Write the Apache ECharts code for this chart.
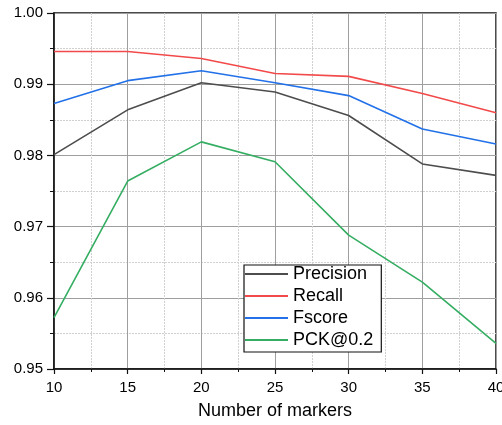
<!DOCTYPE html>
<html><head><meta charset="utf-8">
<script src="https://cdn.jsdelivr.net/npm/echarts@6/dist/echarts.min.js"></script>
<style>html,body{margin:0;padding:0;background:#fff}#c{width:502px;height:425px}</style>
</head><body><div id="c"></div>
<script>
var markers = [10, 15, 20, 25, 30, 35, 40];
var precision = [0.9801, 0.9864, 0.9902, 0.9889, 0.9856, 0.9788, 0.9772];
var recall = [0.9946, 0.9946, 0.9936, 0.9915, 0.9911, 0.9887, 0.9860];
var fscore = [0.9873, 0.9905, 0.9919, 0.9902, 0.9884, 0.9837, 0.9816];
var pck = [0.9572, 0.9764, 0.9819, 0.9791, 0.9688, 0.9622, 0.9536];
var seriesNames = ['Precision', 'Recall', 'Fscore', 'PCK@0.2'];
var colors = ['#4d4d4d', '#f24a4a', '#2271e8', '#35ad62'];
var font = "'Liberation Sans', Arial, sans-serif";

function pairs(ys){ return markers.map(function(x,i){ return [x, ys[i]]; }); }
var all = [precision, recall, fscore, pck];
var chart = echarts.init(document.getElementById('c'));
chart.setOption({
  animation: false,
  grid: {left: 54, right: 6, top: 13, bottom: 56, show: true, borderColor: '#111', borderWidth: 1.5,
    containLabel: false, outerBoundsMode: 'none'},
  legend: {
    orient: 'vertical', left: 244, top: 265,
    data: seriesNames,
    icon: 'rect', itemWidth: 43, itemHeight: 2, itemGap: 4,
    padding: [0, 8, 3, 1],
    borderColor: '#111', borderWidth: 1.2, backgroundColor: '#fff',
    textStyle: {fontFamily: font, fontSize: 18, color: '#000', lineHeight: 18}
  },
  xAxis: {
    type: 'value', min: 10, max: 40, interval: 5,
    name: 'Number of markers', nameLocation: 'middle', nameGap: 33,
    nameTextStyle: {fontFamily: font, fontSize: 18, color: '#000'},
    axisLine: {show: true, lineStyle: {color: '#111', width: 1.5}},
    axisTick: {show: true, inside: false, length: 5, lineStyle: {color: '#111', width: 1.2}},
    minorTick: {show: true, splitNumber: 2, length: 3, lineStyle: {color: '#111', width: 1}},
    axisLabel: {fontFamily: font, fontSize: 15, color: '#000', margin: 11, showMaxLabel: true},
    splitLine: {show: true, lineStyle: {color: '#9e9e9e', width: 1}},
    minorSplitLine: {show: true, lineStyle: {color: '#d0d0d0', type: [2, 1], width: 1}}
  },
  yAxis: {
    type: 'value', min: 0.95, max: 1.0, interval: 0.01,
    axisLine: {show: true, lineStyle: {color: '#111', width: 1.5}},
    axisTick: {show: true, inside: false, length: 7, lineStyle: {color: '#111', width: 1.2}},
    minorTick: {show: true, splitNumber: 2, length: 4, lineStyle: {color: '#111', width: 1}},
    axisLabel: {fontFamily: font, fontSize: 15, color: '#000', margin: 11,
      formatter: function(v){ return v.toFixed(2); }},
    splitLine: {show: true, lineStyle: {color: '#9e9e9e', width: 1}},
    minorSplitLine: {show: true, lineStyle: {color: '#d0d0d0', type: [2, 1], width: 1}}
  },
  series: seriesNames.map(function(n, i){
    return {name: n, type: 'line', data: pairs(all[i]), symbol: 'none',
      lineStyle: {color: colors[i], width: 1.6}, itemStyle: {color: colors[i]}, z: 3};
  })
});
</script></body></html>
